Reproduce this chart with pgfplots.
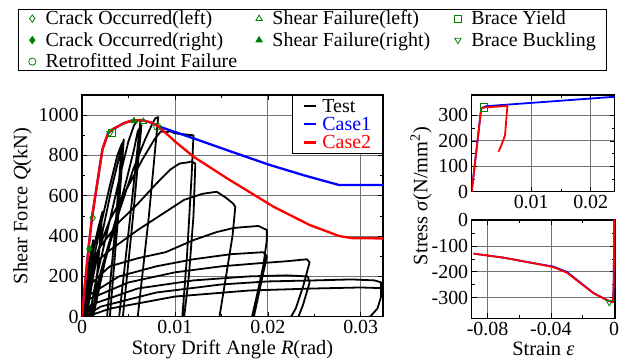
\documentclass[border=0pt]{standalone}
\usepackage{pgfplots}
\pgfplotsset{compat=1.18}
\usepackage{fontspec}
\setmainfont{Liberation Serif}
\usetikzlibrary{plotmarks}
\definecolor{mgreen}{RGB}{0,128,0}
\newcommand\ff{\fontsize{20}{21}\selectfont}
\newcommand\fl{\fontsize{20.5}{21}\selectfont}
\newcommand\mf{\fontsize{20}{19.5}\selectfont}
\newcommand\lf{\fontsize{20}{20}\selectfont}
\pgfplotsset{
  myax/.style={scale only axis, clip=true,
    /pgf/number format/assume math mode=true,
    /pgf/number format/1000 sep={},
    tick label style={font=\ff},
    label style={font=\fl},
    tick align=inside, major tick length=5bp, minor tick length=3bp,
    tick style={black, line width=0.6bp},
    axis line style={line width=1.1bp},
    grid=major, major grid style={black!55, line width=0.7bp},
    scaled x ticks=false, scaled y ticks=false,
    xticklabel style={/pgf/number format/fixed, /pgf/number format/precision=2},
  },
  testline/.style={black, line width=1.8bp, line join=round},
  case1/.style={blue, line width=2.3bp, line join=round},
  case2/.style={red, line width=2.3bp, line join=round},
  mk/.style={only marks, mgreen, mark size=3.6bp, line width=0.8bp, mark options={fill=white, solid},
    legend image code/.code={\path (-4.5bp,0bp) (4.5bp,0bp); \draw[##1] plot coordinates {(0bp,0bp)};}},
}
\begin{document}
\begin{tikzpicture}
\path[use as bounding box] (0,0) rectangle (630bp,363bp);
% ---------------- main axis
\begin{axis}[myax, width=301bp, height=221.7bp, at={(82bp,46.3bp)}, anchor=south west,
  xmin=0, xmax=0.0324, ymin=0, ymax=1100,
  xtick={0,0.01,0.02,0.03}, ytick={0,200,400,600,800,1000},
  minor x tick num=1, minor y tick num=1,
  xlabel={Story Drift Angle \textit{R}(rad)},
  ylabel={Shear Force \textit{Q}(kN)},
  legend image code/.code={\draw[#1] (0bp,0bp)--(12bp,0bp);},
  legend style={at={(1,1)}, anchor=north east, draw=black, line width=0.8bp, font=\mf,
    inner xsep=10bp, inner ysep=1.75bp, nodes={inner sep=1.5bp}, row sep=0bp,
    /tikz/every odd column/.append style={column sep=4bp}, cells={anchor=west}},
]
\addplot[testline] coordinates {
(0,0) (0.0004,150) (0.0008,280) (0.0012,380) (0.0010,200) (0.0005,0) (-0.001,-300)
(0.0002,0) (0.0006,150) (0.0012,330) (0.0018,450) (0.0022,520) (0.0018,300) (0.0012,0) (-0.002,-400)
(0.0003,0) (0.001,230) (0.002,450) (0.003,650) (0.0038,800) (0.0043,860) (0.0036,450) (0.0027,0) (-0.003,-600)
(0.0005,0) (0.0012,200) (0.0022,420) (0.0032,640) (0.004,790) (0.0045,880) (0.0039,500) (0.003,0) (-0.004,-700)
(0.0008,0) (0.0015,180) (0.003,480) (0.0042,720) (0.005,870) (0.0056,950) (0.006,975) (0.0063,978) (0.0052,500) (0.004,0) (-0.006,-800)
(0.001,0) (0.002,220) (0.0035,460) (0.0048,680) (0.0056,830) (0.006,920) (0.0064,950) (0.0055,500) (0.0044,0) (-0.006,-800)
(0.0012,0) (0.0025,280) (0.004,520) (0.0055,730) (0.0068,880) (0.0076,960) (0.0079,985) (0.0082,990) (0.0072,500) (0.006,0) (-0.008,-850)
(0.0004,0) (0.0006,120) (0.0015,300) (0.003,480) (0.005,650) (0.0065,780) (0.0078,880) (0.0085,920) (0.009,915) (0.0095,920) (0.010,910) (0.011,905) (0.012,900) (0.0118,700) (0.0113,300) (0.0108,0) (-0.01,-800)
(0.0002,0) (0.0004,200) (0.002,350) (0.004,470) (0.006,560) (0.008,660) (0.0095,730) (0.0105,760) (0.0113,765) (0.0118,770) (0.0122,760) (0.012,500) (0.0115,200) (0.011,0) (-0.012,-700)
(0.0003,0) (0.0005,230) (0.003,330) (0.006,430) (0.009,520) (0.011,580) (0.013,610) (0.0145,620) (0.0155,590) (0.0163,560) (0.0165,545) (0.0162,400) (0.0155,200) (0.0148,0) (-0.015,-600)
(0.0002,0) (0.0004,140) (0.003,250) (0.006,290) (0.009,320) (0.012,380) (0.0145,420) (0.0163,440) (0.0175,445) (0.019,450) (0.0199,430) (0.0199,380) (0.0195,250) (0.0188,100) (0.0183,0) (-0.018,-500)
(0.0003,0) (0.0005,100) (0.004,200) (0.008,250) (0.012,285) (0.016,310) (0.0195,320) (0.0199,300) (0.0192,150) (0.0185,0) (-0.02,-450)
(0.0002,0) (0.0004,80) (0.005,170) (0.010,220) (0.015,250) (0.019,265) (0.022,275) (0.0242,285) (0.0245,270) (0.0238,150) (0.023,40) (0.0225,0) (-0.025,-400)
(0.0004,0) (0.001,60) (0.006,140) (0.012,180) (0.018,200) (0.022,205) (0.0243,200) (0.0245,170) (0.0238,60) (0.0233,0) (-0.025,-300)
(0.0003,0) (0.002,50) (0.008,120) (0.015,160) (0.02,175) (0.025,180) (0.029,185) (0.0315,180) (0.0322,170) (0.0322,100) (0.0318,40) (0.031,0) (-0.03,-300)
(0.0005,0) (0.003,40) (0.01,100) (0.018,130) (0.025,140) (0.03,145) (0.0335,140) (0.034,0)
};
\addlegendentry{\mf\strut Test}
\addplot[case1] coordinates {
(0,0) (0.0004,200) (0.0007,340) (0.0011,500) (0.0016,650) (0.0022,830) (0.0028,910) (0.0033,930) (0.0045,960) (0.0055,975) (0.0065,975) (0.0075,962) (0.0082,945)
(0.012,885) (0.016,820) (0.0202,753) (0.024,700) (0.0277,653) (0.0330,653)};
\addlegendentry{\mf\strut\textcolor{blue}{Case1}}
\addplot[case2] coordinates {
(0,0) (0.0004,200) (0.0007,340) (0.0011,500) (0.0016,650) (0.0022,830) (0.0028,910) (0.0033,930) (0.0045,960) (0.0055,975) (0.0065,975) (0.0075,962) (0.0082,945)
(0.01,870) (0.012,794) (0.0156,687) (0.0206,546) (0.0245,455) (0.0277,400) (0.029,390) (0.0330,388)};
\addlegendentry{\mf\strut\textcolor{red}{Case2}}
\addplot[mk, mark=diamond*, mark options={fill=mgreen}, forget plot] coordinates {(0.0008,336)};
\addplot[mk, mark=diamond, forget plot] coordinates {(0.00115,491)};
\addplot[mk, mark=square, forget plot] coordinates {(0.0032,910)};
\addplot[mk, mark=triangle, mark options={rotate=180}, forget plot] coordinates {(0.003,910)};
\addplot[mk, mark=triangle*, mark options={fill=mgreen}, forget plot] coordinates {(0.0056,971)};
\addplot[mk, mark=triangle, forget plot] coordinates {(0.0066,968)};
\addplot[mk, mark=o, forget plot] coordinates {(0.0081,943)};
\end{axis}
% ---------------- top right
\begin{axis}[myax, width=142.8bp, height=96.7bp, at={(471.7bp,171.3bp)}, anchor=south west,
  xmin=0, xmax=0.024, ymin=0, ymax=380,
  xtick={0.01,0.02}, ytick={0,100,200,300},
  minor x tick num=1, minor y tick num=1,
]
\addplot[blue, line width=1.8bp] coordinates {(0,0) (0.0016,327) (0.0024,336) (0.024,373)};
\addplot[red, line width=1.8bp, line join=round] coordinates {(0,0) (0.0016,327) (0.0021,331) (0.006,337) (0.0058,280) (0.0056,222) (0.005,183) (0.0045,157)};
\addplot[mk, mark=square] coordinates {(0.0021,331)};
\end{axis}
% ---------------- bottom right
\begin{axis}[myax, width=143.3bp, height=98.3bp, at={(471.7bp,44.7bp)}, anchor=south west,
  xmin=-0.09, xmax=0.0005, ymin=-380, ymax=0,
  xtick={-0.08,-0.04,0}, ytick={-300,-200,-100,0},
  minor x tick num=1, minor y tick num=1,
  xlabel={Strain \textit{ε}},
]
\addplot[blue, line width=1.8bp, line join=round] coordinates {(-0.0888,-130) (-0.0694,-146) (-0.0527,-165) (-0.0385,-180) (-0.0298,-201) (-0.0214,-242) (-0.0131,-282) (-0.0048,-309) (-0.0008,-318) (-0.0003,-250) (0,0) (0.0003,40)};
\addplot[red, line width=1.8bp, line join=round] coordinates {(-0.0888,-130) (-0.0694,-146) (-0.0527,-165) (-0.0385,-182) (-0.0298,-204) (-0.0214,-244) (-0.0131,-283) (-0.0048,-309) (-0.0008,-318) (-0.0003,-250) (0,0) (0.0003,40)};
\addplot[mk, mark=triangle, mark options={rotate=180}] coordinates {(-0.0031,-318)};
\end{axis}
\node[rotate=90, font=\fl] at (421bp,167bp) {Stress \textit{σ}(N/mm\textsuperscript{2})};
% ---------------- top legend
\begin{axis}[hide axis, scale only axis, width=630bp, height=363bp, at={(0bp,0bp)}, anchor=south west,
  xmin=0, xmax=1, ymin=0, ymax=1,
  legend columns=3,
  legend style={at={(18/630,354/363)}, anchor=north west, draw=black, line width=0.8bp, font=\lf,
    cells={anchor=west}, nodes={inner sep=1.5bp}, row sep=3bp, inner xsep=9bp, inner ysep=0bp,
    /tikz/every odd column/.append style={column sep=7bp}},
]
\addlegendimage{mk, mark=diamond}
\addlegendentry{\lf\strut\makebox[207bp][l]{Crack Occurred(left)}}
\addlegendimage{mk, mark=triangle}
\addlegendentry{\lf\strut\makebox[179bp][l]{Shear Failure(left)}}
\addlegendimage{mk, mark=square}
\addlegendentry{\lf\strut\makebox[125bp][l]{Brace Yield}}
\addlegendimage{mk, mark=diamond*, mark options={fill=mgreen}}
\addlegendentry{\lf\strut\makebox[207bp][l]{Crack Occurred(right)}}
\addlegendimage{mk, mark=triangle*, mark options={fill=mgreen}}
\addlegendentry{\lf\strut\makebox[179bp][l]{Shear Failure(right)}}
\addlegendimage{mk, mark=triangle, mark options={rotate=180}}
\addlegendentry{\lf\strut\makebox[125bp][l]{Brace Buckling}}
\addlegendimage{mk, mark=o}
\addlegendentry{\lf\strut\makebox[207bp][l]{Retrofitted Joint Failure}}
\end{axis}
\end{tikzpicture}
\end{document}
